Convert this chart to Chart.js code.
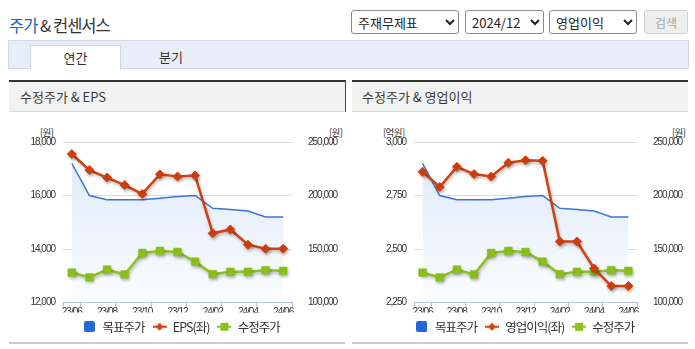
<!DOCTYPE html>
<html><head><meta charset="utf-8">
<script src="https://cdn.jsdelivr.net/npm/chart.js@4.4.1/dist/chart.umd.min.js"></script>
<style>
body{margin:0;width:695px;height:349px;background:#fff;position:relative;overflow:hidden;font-family:'Noto Sans CJK KR','Noto Sans',sans-serif;color:#333}
.abs{position:absolute}
.sel{position:absolute;top:10px;height:24px;font-size:13px;font-family:'Noto Sans CJK KR',sans-serif;color:#222;background:#fff;border:1px solid #8a8a8a;border-radius:3px;padding:0 2px}
.panelTop{position:absolute;top:80px;height:2px;background:#333}
.panelTitle{position:absolute;top:82px;height:29px;background:#f2f2f2;border-bottom:1px solid #dadada;font-size:13px;line-height:29px;color:#3a3a3a;box-sizing:content-box}
.panelBottom{position:absolute;top:342px;height:2px;background:#c9c9c9}
.unit{position:absolute;top:125px;font-size:9.5px;color:#333;letter-spacing:-0.6px;font-family:'Noto Sans CJK KR',sans-serif}
</style></head><body>

<div class="abs" style="left:9px;top:13px;font-size:16.5px;letter-spacing:-1px"><span style="color:#2262c8">주가</span> &amp; 컨센서스</div>
<select class="sel" style="left:351px;width:108px"><option>주재무제표</option></select>
<select class="sel" style="left:465px;width:79px"><option>2024/12</option></select>
<select class="sel" style="left:549px;width:88px"><option>영업이익</option></select>
<div class="abs" style="left:644px;top:10px;width:44px;height:24px;border:1px solid #d0d0d0;border-radius:3px;background:#eeeeee;color:#a8a8a8;font-size:12px;line-height:24px;text-align:center;box-sizing:border-box">검색</div>

<div class="abs" style="left:8px;top:40px;width:681px;height:29px;background:#e8eef8;border:1px solid #cfd9e9;box-sizing:border-box"></div>
<div class="abs" style="left:30px;top:45px;width:91px;height:25px;background:#fff;border:1px solid #cfd9e9;border-bottom:none;box-sizing:border-box;text-align:center;font-size:13px;line-height:24px">연간</div>
<div class="abs" style="left:149px;top:45px;width:44px;height:24px;text-align:center;font-size:13px;line-height:24px">분기</div>

<div class="panelTop" style="left:9px;width:337px"></div>
<div class="panelTitle" style="left:9px;width:325px;padding-left:11px">수정주가 &amp; EPS</div>
<div class="abs" style="left:345px;top:80px;width:1px;height:32px;background:#444"></div>
<div class="panelBottom" style="left:9px;width:336px"></div>

<div class="panelTop" style="left:352px;width:336px"></div>
<div class="panelTitle" style="left:352px;width:326px;padding-left:10px">수정주가 &amp; 영업이익</div>
<div class="panelBottom" style="left:352px;width:336px"></div>

<div class="unit" style="left:40px">[원]</div>
<div class="unit" style="left:329px">[원]</div>
<div class="unit" style="left:383px">[억원]</div>
<div class="unit" style="left:672px">[원]</div>

<canvas id="c1" width="336" height="230" style="position:absolute;left:9px;top:113px"></canvas>
<canvas id="c2" width="336" height="230" style="position:absolute;left:352px;top:113px"></canvas>

<script>
// ---- data ----
const months = ['23/06','23/07','23/08','23/09','23/10','23/11','23/12','24/01','24/02','24/03','24/04','24/05','24/06'];
const targetPrice = [230000, 200000, 196000, 196000, 196000, 197500, 199000, 200000, 188000, 187000, 185500, 180000, 180000];
const adjPrice = [128000, 123400, 130800, 126200, 146300, 148200, 147200, 138200, 126500, 128700, 128700, 130200, 129600];
const eps = [17550, 16950, 16670, 16390, 16060, 16790, 16710, 16750, 14590, 14730, 14160, 14010, 14010];
const opIncome = [2861, 2790, 2884, 2850, 2839, 2903, 2915, 2912, 2535, 2535, 2409, 2327, 2327];
const epsAxis = {min: 12000, max: 18000, step: 2000};
const opAxis = {min: 2250, max: 3000, step: 250};
const priceAxis = {min: 100000, max: 250000, step: 50000};
const seriesNames = ['목표주가', 'EPS(좌)', '영업이익(좌)', '수정주가'];

// ---- styles ----
const TICK_FONT = "'Liberation Sans',Arial,sans-serif";
const BLUE = '#3a76d6', RED = '#d3410f', GREEN = '#8cc21f', AXIS = '#a9bddb';

function icon(kind) {
  const c = document.createElement('canvas');
  const x = c.getContext('2d');
  if (kind === 'box') {
    c.width = 11; c.height = 11;
    x.fillStyle = '#2368d9';
    x.beginPath(); x.roundRect(0, 0, 11, 11, 2); x.fill();
  } else {
    c.width = 14; c.height = 10;
    const col = kind === 'diamond' ? RED : GREEN;
    x.strokeStyle = col; x.lineWidth = 2;
    x.beginPath(); x.moveTo(0, 5); x.lineTo(14, 5); x.stroke();
    x.fillStyle = col; x.beginPath();
    if (kind === 'diamond') { x.moveTo(7, 1); x.lineTo(11, 5); x.lineTo(7, 9); x.lineTo(3, 5); x.closePath(); }
    else { x.rect(3, 1, 8, 8); }
    x.fill();
  }
  return c;
}
const icons = [icon('box'), icon('diamond'), icon('square')];

const narrowText = {
  id: 'narrowText',
  beforeLayout(chart) { chart.ctx.letterSpacing = '-1px'; },
  beforeDraw(chart) { chart.ctx.letterSpacing = '-1px'; }
};

const shadowPlugin = {
  id: 'dsShadow',
  beforeDatasetDraw(chart, args) {
    if (!chart.data.datasets[args.index].shadow) return;
    const ctx = chart.ctx; ctx.save();
    ctx.shadowColor = 'rgba(0,0,0,0.25)'; ctx.shadowBlur = 3; ctx.shadowOffsetX = 1; ctx.shadowOffsetY = 2;
  },
  afterDatasetDraw(chart, args) {
    if (!chart.data.datasets[args.index].shadow) return;
    chart.ctx.restore();
  }
};

function gradient(ctx) {
  const chart = ctx.chart, a = chart.chartArea;
  if (!a) return 'rgba(225,235,249,0.8)';
  const g = chart.ctx.createLinearGradient(0, a.top, 0, a.bottom);
  g.addColorStop(0, 'rgb(219,231,248)');
  g.addColorStop(1, 'rgb(251,253,255)');
  return g;
}

function makeChart(id, leftData, leftName, leftAxis, padL, leftW, rightW) {
  return new Chart(document.getElementById(id), {
    type: 'line',
    data: {
      labels: months,
      datasets: [
        {label: seriesNames[0], data: targetPrice, yAxisID: 'y1', borderColor: BLUE, borderWidth: 1.5,
         pointRadius: 0, fill: 'start', backgroundColor: gradient, order: 3},
        {label: leftName, data: leftData, yAxisID: 'y', borderColor: RED, backgroundColor: RED, borderWidth: 2.5,
         pointStyle: 'rectRot', pointRadius: 4.5, pointBorderWidth: 1, pointBorderColor: RED, order: 1, shadow: true},
        {label: seriesNames[3], data: adjPrice, yAxisID: 'y1', borderColor: GREEN, backgroundColor: GREEN, borderWidth: 2.5,
         pointStyle: 'rect', pointRadius: 5.5, pointBorderWidth: 0.5, pointBorderColor: GREEN, order: 2, shadow: true}
      ]
    },
    options: {
      responsive: false, animation: false, devicePixelRatio: 1,
      layout: {padding: {top: 29, left: padL, right: 0, bottom: 0}},
      plugins: {
        tooltip: {enabled: false},
        legend: {
          position: 'bottom',
          labels: {
            usePointStyle: true, pointStyleWidth: 14, padding: 8, color: '#333',
            font: {family: "'Noto Sans CJK KR',sans-serif", size: 12.5},
            generateLabels(chart) {
              const items = Chart.defaults.plugins.legend.labels.generateLabels(chart);
              items.forEach(it => { it.pointStyle = icons[it.datasetIndex]; });
              return items;
            },
            sort: (a, b) => a.datasetIndex - b.datasetIndex
          }
        }
      },
      scales: {
        x: {
          offset: true,
          grid: {offset: true, drawOnChartArea: false, drawTicks: true, tickLength: 4,
                 color: c => (c.index === undefined || c.index === 0 || c.index % 2 === 1) ? AXIS : 'rgba(0,0,0,0)'},
          border: {color: AXIS},
          ticks: {autoSkip: false, maxRotation: 0, padding: 0, color: '#333', font: {family: TICK_FONT, size: 10},
                  callback: (v, i) => i % 2 === 0 ? months[i] : ''},
          afterFit: s => { s.height = 10; }
        },
        y: {
          position: 'left', min: leftAxis.min, max: leftAxis.max,
          ticks: {stepSize: leftAxis.step, padding: 8, color: '#333', font: {family: TICK_FONT, size: 10}},
          grid: {color: '#dcdcdc', drawTicks: false},
          border: {display: false},
          afterFit: s => { s.width = leftW; }
        },
        y1: {
          position: 'right', min: priceAxis.min, max: priceAxis.max,
          ticks: {stepSize: priceAxis.step, padding: 8, color: '#333', font: {family: TICK_FONT, size: 10}},
          grid: {display: false},
          border: {display: false},
          afterFit: s => { s.width = rightW; }
        }
      }
    },
    plugins: [narrowText, shadowPlugin]
  });
}

makeChart('c1', eps, seriesNames[1], epsAxis, 8, 46, 53);
makeChart('c2', opIncome, seriesNames[2], opAxis, 9, 53, 51);
</script>
</body></html>
